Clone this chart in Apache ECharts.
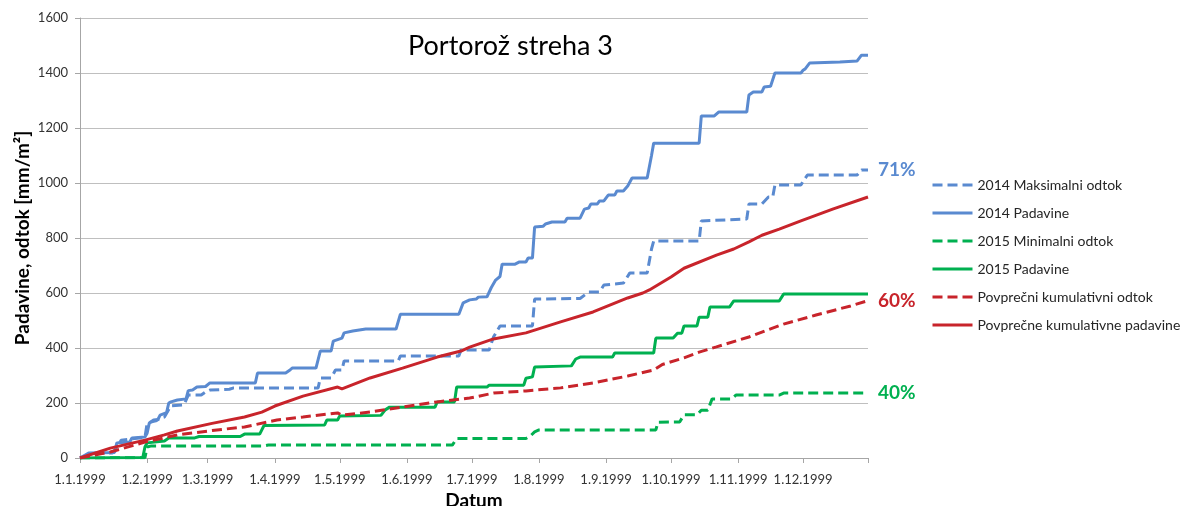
<!DOCTYPE html>
<html>
<head>
<meta charset="utf-8">
<title>Portorož streha 3</title>
<script src="https://cdn.jsdelivr.net/npm/echarts@6/dist/echarts.min.js"></script>
<style>
  html, body { margin: 0; padding: 0; background: #ffffff; }
  #chart { width: 1188px; height: 506px; }
</style>
</head>
<body>
<div id="chart"></div>
<script>
// Day of year (1.1.1999 = 0) on which each month starts, and the tick labels shown there
const MONTH_START_DAYS = [0, 31, 59, 90, 120, 151, 181, 212, 243, 273, 304, 334];
const TICK_LABELS = ['1.1.1999', '1.2.1999', '1.3.1999', '1.4.1999', '1.5.1999', '1.6.1999',
  '1.7.1999', '1.8.1999', '1.9.1999', '1.10.1999', '1.11.1999', '1.12.1999'];
const LAST_DAY = 364;

const SERIES_NAMES = ['2014 Maksimalni odtok', '2014 Padavine', '2015 Minimalni odtok',
  '2015 Padavine', 'Povprečni kumulativni odtok', 'Povprečne kumulativne padavine'];

// Cumulative values [day of year, mm/m²]
const runoffMax2014 = [[0,0],[5,15],[8,18],[15,18],[18,50],[19,65],[30,75],[31,127],[35,135],[37,145],[39,149],
  [42,190],[48,193],[50,229],[56,229],[58,240],[60,247],[69,250],[71,255],[110,255],[111,291],[116,291],[118,320],
  [121,320],[122,353],[147,353],[148,371],[175,371],[176,393],[189,393],[191,440],[194,480],[209,480],[210,578],
  [231,580],[235,604],[240,604],[242,629],[251,636],[254,673],[262,673],[264,760],[265,789],[286,789],[287,862],
  [308,869],[309,924],[315,924],[318,949],[320,949],[321,993],[333,993],[336,1029],[359,1029],[361,1047],[364,1047]];

const rain2014 = [[0,0],[4,18],[16,20],[17,55],[23,58],[24,73],[30,76],[31,90],[32,127],[34,138],[36,140],
  [37,156],[40,165],[41,200],[42,204],[45,211],[49,215],[50,245],[52,247],[54,258],[58,260],[60,273],[81,273],
  [82,309],[95,309],[97,320],[98,327],[109,327],[111,389],[116,389],[117,425],[121,436],[122,455],[126,462],
  [132,469],[146,469],[148,523],[175,523],[177,564],[180,575],[183,578],[184,585],[188,586],[190,620],[192,647],
  [194,660],[195,705],[201,705],[203,713],[206,713],[207,727],[209,727],[210,840],[214,843],[215,851],[218,858],
  [224,858],[225,872],[231,872],[233,905],[235,909],[236,924],[239,924],[240,935],[242,935],[244,956],[247,956],
  [248,971],[251,971],[253,989],[255,1018],[262,1018],[264,1100],[265,1145],[286,1145],[287,1244],[293,1244],
  [295,1258],[308,1258],[309,1320],[311,1331],[315,1331],[316,1349],[319,1352],[321,1400],[333,1400],[334,1410],
  [335,1415],[337,1436],[351,1440],[359,1444],[361,1465],[364,1465]];

const runoffMin2015 = [[0,0],[30,1],[31,40],[33,44],[85,44],[87,47],[172,47],[174,71],[206,71],[208,80],[210,95],
  [212,102],[266,102],[267,130],[277,131],[279,157],[285,157],[287,174],[290,174],[292,215],[301,215],[303,229],
  [323,229],[325,236],[364,236]];

const rain2015 = [[0,0],[29,2],[30,40],[31,55],[39,62],[41,73],[53,73],[55,78],[74,78],[76,87],[83,87],[85,118],
  [113,120],[114,138],[119,138],[120,153],[139,155],[141,175],[143,185],[164,185],[165,204],[173,204],[174,258],
  [188,258],[189,265],[205,265],[206,290],[209,295],[210,331],[227,335],[229,360],[231,367],[246,367],[247,382],
  [265,382],[266,436],[274,436],[276,454],[278,454],[279,480],[285,480],[286,512],[290,512],[291,549],[300,549],
  [302,571],[323,571],[325,596],[364,596]];

const runoffMean = [[0,0],[14,22],[30,58],[45,84],[61,100],[76,113],[91,138],[103,149],[119,164],[121,156],
  [134,167],[149,185],[165,204],[180,218],[191,236],[206,244],[222,255],[237,273],[253,298],[265,320],[269,340],
  [279,364],[286,385],[294,404],[309,440],[325,487],[340,520],[356,553],[364,572]];

const rainMean = [[0,0],[14,36],[30,65],[39,84],[45,98],[61,126],[76,149],[84,167],[90,189],[103,225],[119,258],
  [121,251],[134,291],[149,327],[165,367],[176,389],[180,403],[191,433],[206,455],[222,495],[237,531],[253,582],
  [260,600],[263,611],[273,658],[279,690],[294,738],[302,760],[309,786],[315,810],[323,832],[333,862],[348,906],
  [364,949]];

const Y_TICKS = { min: 0, max: 1600, step: 200 };

const BLUE = '#5A8AD0';
const GREEN = '#00B050';
const RED = '#C8242B';
const FONT = 'Lato, "Open Sans", sans-serif';

const lastValue = arr => arr[arr.length - 1][1];
// Share of the year's rainfall that ran off, shown at the end of each runoff curve
const shareLabel = (runoff, rain) => Math.round(lastValue(runoff) / lastValue(rain) * 100) + '%';

function lineSeries(name, data, color, dashed, endText) {
  const s = {
    name: name,
    type: 'line',
    data: data,
    symbol: 'none',
    showSymbol: false,
    lineStyle: { color: color, width: 3, type: dashed ? [10, 5] : 'solid', cap: 'butt' },
    itemStyle: { color: color },
    emphasis: { disabled: true }
  };
  if (endText) {
    s.endLabel = {
      show: true,
      formatter: () => endText,
      color: color,
      fontFamily: FONT,
      fontSize: 19,
      fontWeight: 'bold',
      distance: 10
    };
  }
  return s;
}

const chart = echarts.init(document.getElementById('chart'), null, { renderer: 'canvas' });

chart.setOption({
  animation: false,
  backgroundColor: '#ffffff',
  title: {
    text: 'Portorož streha 3',
    left: 408,
    top: 33,
    padding: 0,
    textStyle: { fontFamily: FONT, fontSize: 27, fontWeight: 'normal', color: '#000000' }
  },
  legend: {
    orient: 'vertical',
    left: 931,
    top: 178,
    padding: 0,
    itemWidth: 40,
    itemHeight: 14,
    itemGap: 14,
    // legend keys are plain line samples, no point marker
    itemStyle: { opacity: 0 },
    lineStyle: { width: 3 },
    textStyle: { fontFamily: FONT, fontSize: 14, color: '#262626' },
    data: SERIES_NAMES
  },
  grid: { left: 80, right: 320, top: 18, bottom: 48, containLabel: false, outerBoundsMode: 'none' },
  xAxis: {
    type: 'value',
    min: 0,
    max: LAST_DAY,
    name: 'Datum',
    nameLocation: 'middle',
    nameGap: 27,
    nameTextStyle: { fontFamily: FONT, fontSize: 19, fontWeight: 'bold', color: '#000000' },
    axisLine: { show: true, lineStyle: { color: '#A6A6A6', width: 1 } },
    axisTick: { show: true, length: 5, customValues: MONTH_START_DAYS.concat([LAST_DAY]), lineStyle: { color: '#A6A6A6' } },
    axisLabel: {
      customValues: MONTH_START_DAYS,
      formatter: v => TICK_LABELS[MONTH_START_DAYS.indexOf(v)],
      fontFamily: FONT, fontSize: 13, color: '#333333', margin: 15
    },
    splitLine: { show: false }
  },
  yAxis: {
    type: 'value',
    min: Y_TICKS.min,
    max: Y_TICKS.max,
    interval: Y_TICKS.step,
    name: 'Padavine, odtok [mm/m²]',
    nameLocation: 'middle',
    nameGap: 48,
    nameMoveOverlap: false,
    nameTextStyle: { fontFamily: FONT, fontSize: 19, fontWeight: 'bold', color: '#000000' },
    axisLine: { show: true, lineStyle: { color: '#A6A6A6', width: 1 } },
    axisTick: { show: true, length: 5, lineStyle: { color: '#A6A6A6' } },
    axisLabel: { fontFamily: FONT, fontSize: 13, color: '#333333', margin: 12, formatter: v => String(v) },
    splitLine: { show: true, lineStyle: { color: '#BFBFBF', width: 1 } }
  },
  series: [
    lineSeries(SERIES_NAMES[0], runoffMax2014, BLUE, true, shareLabel(runoffMax2014, rain2014)),
    lineSeries(SERIES_NAMES[1], rain2014, BLUE, false),
    lineSeries(SERIES_NAMES[2], runoffMin2015, GREEN, true, shareLabel(runoffMin2015, rain2015)),
    lineSeries(SERIES_NAMES[3], rain2015, GREEN, false),
    lineSeries(SERIES_NAMES[4], runoffMean, RED, true, shareLabel(runoffMean, rainMean)),
    lineSeries(SERIES_NAMES[5], rainMean, RED, false)
  ]
});
</script>
</body>
</html>
